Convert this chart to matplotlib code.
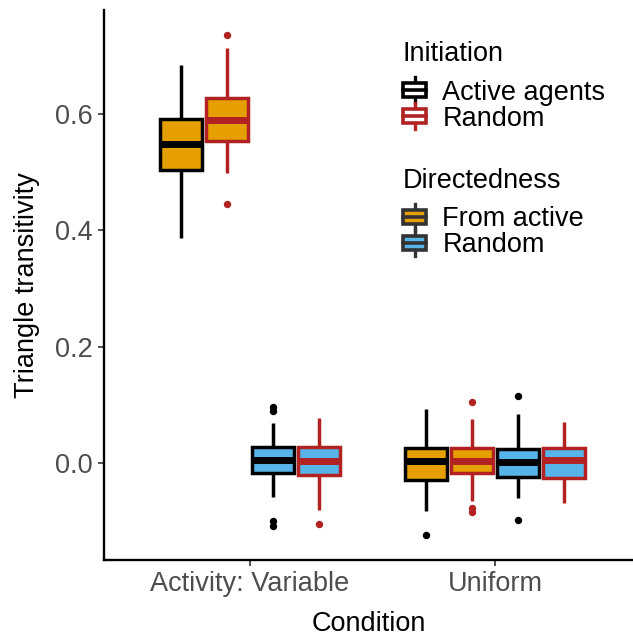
import matplotlib
matplotlib.use("Agg")
import matplotlib.pyplot as plt
from matplotlib.patches import Patch, Rectangle
from matplotlib.lines import Line2D
from matplotlib.legend_handler import HandlerBase

plt.rcParams['font.family'] = ['Liberation Sans', 'DejaVu Sans']

# x categories and dodge groups
conditions = ['Activity: Variable', 'Uniform']
initiation = ['Active agents', 'Random']
directedness = ['From active', 'Random']

# box stats, order per condition:
# (From active, Active agents), (From active, Random), (Random, Active agents), (Random, Random)
q1 = [[0.504, 0.554, -0.017, -0.021],
      [-0.029, -0.017, -0.024, -0.026]]
med = [[0.549, 0.590, 0.005, 0.004],
       [0.003, 0.004, 0.002, 0.005]]
q3 = [[0.591, 0.628, 0.028, 0.027],
      [0.025, 0.025, 0.024, 0.025]]
whis_lo = [[0.387, 0.498, -0.059, -0.081],
           [-0.083, -0.066, -0.061, -0.069]]
whis_hi = [[0.684, 0.713, 0.068, 0.077],
           [0.092, 0.075, 0.085, 0.071]]
fliers = [[[], [0.736, 0.445], [0.096, 0.089, -0.100, -0.108], [-0.105]],
          [[-0.124], [0.104, -0.077, -0.084], [0.116, -0.098], []]]

edge_colors = {'Active agents': '#000000', 'Random': '#B22222'}
fill_colors = {'From active': '#E69F00', 'Random': '#56B4E9'}
groups = [('From active', 'Active agents'), ('From active', 'Random'),
          ('Random', 'Active agents'), ('Random', 'Random')]
offsets = [-0.28125, -0.09375, 0.09375, 0.28125]


class BoxKey(HandlerBase):
    # small boxplot glyph like ggplot's legend keys
    def create_artists(self, legend, orig_handle, xdescent, ydescent,
                       width, height, fontsize, trans):
        ec = orig_handle.get_edgecolor()
        fc = orig_handle.get_facecolor()
        cx = width / 2 - xdescent
        y0 = -ydescent
        h = height
        bw = width
        bh = h * 0.95
        whisk = Line2D([cx, cx], [y0 - 0.35 * h, y0 + 1.35 * h], color=ec,
                       lw=2.4, transform=trans)
        box = Rectangle((cx - bw / 2, y0 + (h - bh) / 2), bw, bh,
                        facecolor=fc, edgecolor=ec, lw=2.6, transform=trans)
        mid = Line2D([cx - bw / 2, cx + bw / 2], [y0 + h / 2, y0 + h / 2],
                     color=ec, lw=2.6, transform=trans)
        return [whisk, box, mid]


fig = plt.figure(figsize=(6.33, 6.37), dpi=100)
ax = fig.add_axes([104 / 633, 77 / 637, 529 / 633, 550 / 637])

for ci in range(len(conditions)):
    for gi, (d, ini) in enumerate(groups):
        st = dict(med=med[ci][gi], q1=q1[ci][gi], q3=q3[ci][gi],
                  whislo=whis_lo[ci][gi], whishi=whis_hi[ci][gi],
                  fliers=fliers[ci][gi])
        ec = edge_colors[ini]
        ax.bxp([st], positions=[ci + 1 + offsets[gi]], widths=0.172,
               patch_artist=True, showcaps=False,
               boxprops=dict(facecolor=fill_colors[d], edgecolor=ec, linewidth=2.5),
               whiskerprops=dict(color=ec, linewidth=2.5, solid_capstyle='butt'),
               medianprops=dict(color=ec, linewidth=5.0, solid_capstyle='butt'),
               flierprops=dict(marker='o', markersize=4.3, markerfacecolor=ec,
                               markeredgecolor=ec))

ax.set_xlim(0.404, 2.563)
ax.set_ylim(-0.1668, 0.7788)
ax.set_xticks([1, 2])
ax.set_xticklabels(conditions)
ax.set_yticks([0.0, 0.2, 0.4, 0.6])
ax.set_yticklabels(['0.0', '0.2', '0.4', '0.6'])
ax.tick_params(labelsize=19.5, labelcolor='#4D4D4D', color='#333333',
               length=4, width=1.2, pad=4)
for s in ['top', 'right']:
    ax.spines[s].set_visible(False)
for s in ['left', 'bottom']:
    ax.spines[s].set_linewidth(1.7)
ax.set_xlabel('Condition', fontsize=19.5, labelpad=10)
ax.set_ylabel('Triangle transitivity', fontsize=19.5, labelpad=11)

h1 = [Patch(facecolor='white', edgecolor=edge_colors[k]) for k in initiation]
h2 = [Patch(facecolor=fill_colors[k], edgecolor='#333333') for k in directedness]
common = dict(loc='upper left', frameon=False, fontsize=19.5, title_fontsize=19.5,
              handler_map={Patch: BoxKey()}, handlelength=0.85, handleheight=0.5,
              handletextpad=0.6, labelspacing=0.0, borderpad=0, borderaxespad=0,
              alignment='left', bbox_transform=fig.transFigure)
leg1 = ax.legend(h1, initiation, title='Initiation',
                 bbox_to_anchor=(403 / 633, 1 - 41 / 637), **common)
leg1._legend_box.sep = 9
ax.add_artist(leg1)
leg2 = ax.legend(h2, directedness, title='Directedness',
                 bbox_to_anchor=(403 / 633, 1 - 168 / 637), **common)
leg2._legend_box.sep = 9

fig.savefig('out.png', dpi=100)
